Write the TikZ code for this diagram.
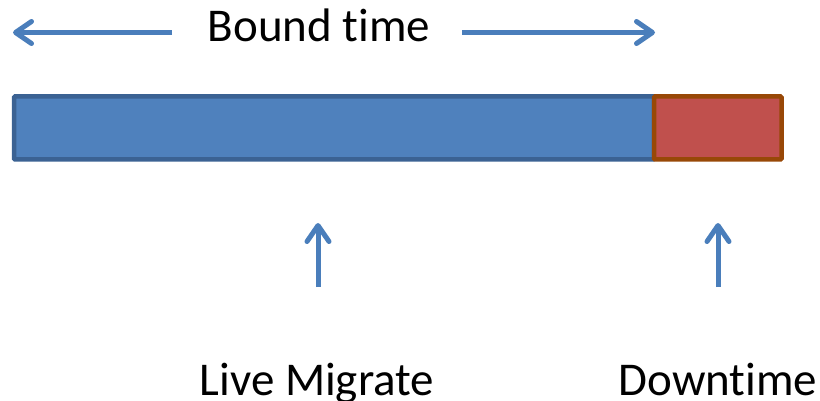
\documentclass[tikz,border=0pt]{standalone}
\usepackage{fontspec}
\setmainfont{Carlito}[Ligatures={NoCommon}]
\usetikzlibrary{arrows.meta}
\definecolor{arrowblue}{HTML}{4A7EBB}
\definecolor{barblue}{HTML}{4F81BD}
\definecolor{barblueedge}{HTML}{3B6293}
\definecolor{barred}{HTML}{C0504D}
\definecolor{barrededge}{HTML}{984807}
\tikzset{
  lbl/.style={font=\fontsize{47}{56}\selectfont, anchor=base, inner sep=0pt, text=black},
  barrow/.style={draw=arrowblue, line width=5pt, -{Straight Barb[length=16pt, width=22pt, round]}},
  seg/.style={line width=4.5pt, rounded corners=1pt}
}
\begin{document}
\begin{tikzpicture}[x=1pt, y=-1pt]
\useasboundingbox (0,0) rectangle (820,401);
% bar
\draw[seg, fill=barblue, draw=barblueedge] (14,96.5) rectangle (654,159.5);
\draw[seg, fill=barred, draw=barrededge] (654,96.5) rectangle (781.5,159.5);
% labels
\node[lbl] (bound) at (319,42) {Bound time};
\node[lbl] (live) at (317,395) {Live Migrate};
\node[lbl] (down) at (718,395) {Downtime};
% coordinates for arrows
\coordinate (lstart) at (172,32.5);
\coordinate (lend) at (13,32.5);
\coordinate (rstart) at (462,32.5);
\coordinate (rend) at (655,32.5);
\coordinate (u1s) at (318,287);
\coordinate (u1e) at (318,223);
\coordinate (u2s) at (718,287);
\coordinate (u2e) at (718,223);
\draw[barrow] (lstart) -- (lend);
\draw[barrow] (rstart) -- (rend);
\draw[barrow] (u1s) -- (u1e);
\draw[barrow] (u2s) -- (u2e);
\end{tikzpicture}
\end{document}
